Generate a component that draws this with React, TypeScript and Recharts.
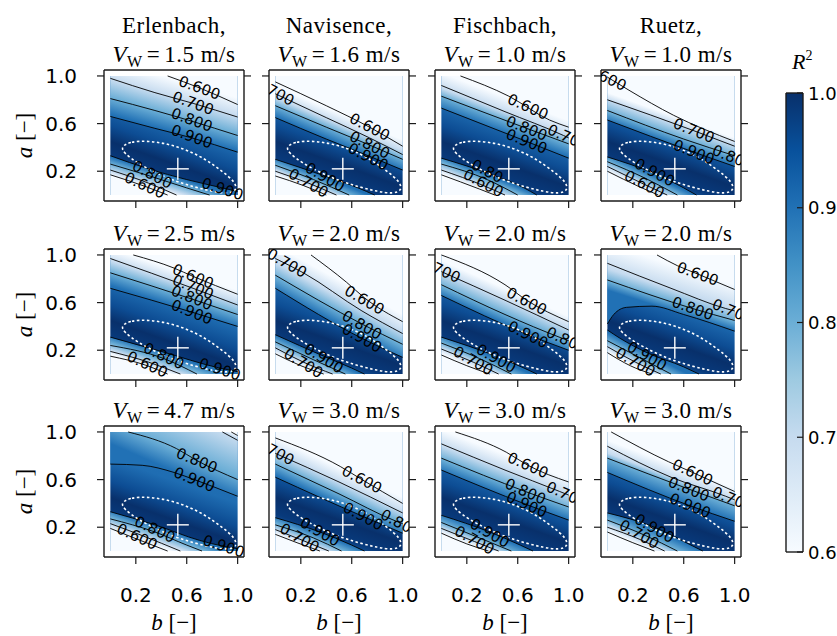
import React from 'react';
import { ComposedChart, Area, Line, Scatter, XAxis, YAxis } from 'recharts';

type Pt = [number, number];
type Lbl = [string, number, number, number];

const rivers = ['Erlenbach,', 'Navisence,', 'Fischbach,', 'Ruetz,'];
const speeds = ['1.5', '1.6', '1.0', '1.0', '2.5', '2.0', '2.0', '2.0', '4.7', '3.0', '3.0', '3.0'];
const bTicks = [0.2, 0.6, 1.0];
const aTicks = [0.2, 0.6, 1.0];
const cbTicks = [0.6, 0.7, 0.8, 0.9, 1.0];
// Blues colour at the contour levels 0.6, 0.7, 0.8, 0.9
const levelColors = ['#f7fbff', '#c6dbef', '#6baed6', '#2171b5'];
const ridgeStops: [number, string][] = [
  [0, '#2171b5'], [0.45, '#1f6db2'], [0.62, '#0d4d94'], [0.74, '#08306b'], [0.86, '#083a7c'], [1, '#2171b5'],
];
const blues: [number, string][] = [
  [0, '#f7fbff'], [0.125, '#deebf7'], [0.25, '#c6dbef'], [0.375, '#9ecae1'], [0.5, '#6baed6'],
  [0.625, '#4292c6'], [0.75, '#2171b5'], [0.875, '#08519c'], [1, '#08306b'],
];
const optimum: Pt = [0.53, 0.22];
const ellipse: Pt[] = [
  [0.08, 0.405], [0.16, 0.45], [0.30, 0.455], [0.45, 0.43], [0.60, 0.38], [0.75, 0.30], [0.88, 0.20],
  [0.98, 0.11], [0.995, 0.04], [0.93, 0.01], [0.80, 0.03], [0.65, 0.07], [0.50, 0.12], [0.35, 0.19],
  [0.21, 0.27], [0.11, 0.35],
];

// contours [b, a]; upper branch and lower branch, levels 0.6, 0.7, 0.8, 0.9
const erl15Up: Pt[][] = [
  [[0.45, 1.0], [0.7, 0.9], [1, 0.76]],
  [[0, 0.98], [0.35, 0.86], [0.65, 0.77], [1, 0.655]],
  [[0, 0.81], [0.35, 0.71], [0.64, 0.62], [1, 0.5]],
  [[0, 0.66], [0.35, 0.56], [0.64, 0.48], [1, 0.36]],
];
const erl15Lo: Pt[][] = [
  [[0, 0.17], [0.28, 0.07], [0.45, 0]],
  [[0, 0.21], [0.3, 0.1], [0.52, 0]],
  [[0, 0.26], [0.31, 0.16], [0.6, 0.06], [0.78, 0]],
  [[0, 0.33], [0.3, 0.22], [0.6, 0.13], [0.88, 0.06], [1, 0.03]],
];
const erl15Lbl: Lbl[] = [
  ['0.600', 0.7, 0.9, 20], ['0.700', 0.65, 0.77, 20], ['0.800', 0.64, 0.63, 20], ['0.900', 0.64, 0.49, 20],
  ['0.800', 0.33, 0.17, 28], ['0.600', 0.27, 0.08, 25], ['0.900', 0.88, 0.05, 18],
];

const nav16Up: Pt[][] = [
  [[0, 0.95], [0.4, 0.75], [0.74, 0.57], [1, 0.41]],
  [[0, 0.85], [0.4, 0.65], [0.74, 0.48], [1, 0.34]],
  [[0, 0.75], [0.4, 0.57], [0.74, 0.42], [1, 0.3]],
  [[0, 0.65], [0.4, 0.47], [0.73, 0.33], [1, 0.21]],
];
const nav16Lo: Pt[][] = [
  [[0, 0.16], [0.22, 0.08], [0.4, 0]],
  [[0, 0.2], [0.26, 0.1], [0.48, 0]],
  [[0, 0.25], [0.3, 0.13], [0.58, 0]],
  [[0, 0.3], [0.39, 0.16], [0.65, 0.06], [0.78, 0]],
];
const nav16Lbl: Lbl[] = [
  ['700', 0.04, 0.84, 28], ['0.600', 0.74, 0.57, 27], ['0.800', 0.74, 0.42, 27], ['0.900', 0.73, 0.32, 27],
  ['0.900', 0.39, 0.15, 30], ['0.700', 0.26, 0.1, 30],
];

const fis10Up: Pt[][] = [
  [[0.15, 1.0], [0.53, 0.83], [0.85, 0.63], [1, 0.57]],
  [[0, 0.92], [0.5, 0.7], [0.96, 0.5], [1, 0.48]],
  [[0, 0.83], [0.67, 0.56], [1, 0.43]],
  [[0, 0.73], [0.67, 0.45], [1, 0.31]],
];
const fis10Lo: Pt[][] = [
  [[0, 0.17], [0.3, 0.05], [0.42, 0]],
  [[0, 0.21], [0.33, 0.08], [0.5, 0]],
  [[0, 0.26], [0.36, 0.13], [0.6, 0]],
  [[0, 0.31], [0.4, 0.17], [0.65, 0.06], [0.75, 0]],
];
const fis10Lbl: Lbl[] = [
  ['0.600', 0.68, 0.74, 24], ['0.70', 0.96, 0.5, 24], ['0.800', 0.67, 0.56, 22], ['0.900', 0.67, 0.45, 22],
  ['0.80', 0.36, 0.2, 28], ['0.600', 0.33, 0.1, 28],
];

const rue10Up: Pt[][] = [
  [[0, 0.99], [0.17, 0.88], [0.52, 0.67], [1, 0.45]],
  [[0, 0.8], [0.68, 0.54], [1, 0.41]],
  [[0, 0.71], [0.6, 0.47], [1, 0.33]],
  [[0, 0.63], [0.68, 0.36], [1, 0.24]],
];
const rue10Lo: Pt[][] = [
  [[0, 0.2], [0.25, 0.07], [0.4, 0]],
  [[0, 0.24], [0.27, 0.1], [0.47, 0]],
  [[0, 0.28], [0.3, 0.14], [0.55, 0]],
  [[0, 0.32], [0.37, 0.18], [0.6, 0.06], [0.7, 0]],
];
const rue10Lbl: Lbl[] = [
  ['600', 0.04, 0.96, 25], ['0.700', 0.68, 0.54, 22], ['0.80', 0.95, 0.33, 22], ['0.900', 0.68, 0.36, 22],
  ['0.900', 0.37, 0.19, 28], ['0.600', 0.29, 0.09, 28],
];

const erl25Up: Pt[][] = [
  [[0.18, 1.0], [0.5, 0.89], [0.65, 0.82], [1, 0.67]],
  [[0, 0.97], [0.65, 0.72], [1, 0.58]],
  [[0, 0.85], [0.64, 0.63], [1, 0.5]],
  [[0, 0.72], [0.64, 0.52], [1, 0.4]],
];
const erl25Lo: Pt[][] = [
  [[0, 0.15], [0.29, 0.07], [0.45, 0]],
  [[0, 0.19], [0.3, 0.1], [0.55, 0]],
  [[0, 0.24], [0.42, 0.13], [0.68, 0]],
  [[0, 0.31], [0.4, 0.19], [0.86, 0.05], [1, 0.02]],
];
const erl25Lbl: Lbl[] = [
  ['0.600', 0.65, 0.82, 22], ['0.700', 0.65, 0.73, 22], ['0.800', 0.64, 0.64, 22], ['0.900', 0.64, 0.52, 22],
  ['0.800', 0.42, 0.15, 25], ['0.600', 0.29, 0.08, 25], ['0.900', 0.86, 0.04, 18],
];

const nav20Up: Pt[][] = [
  [[0.28, 1.0], [0.56, 0.77], [0.7, 0.64], [1, 0.44]],
  [[0, 0.97], [0.22, 0.85], [0.68, 0.53], [1, 0.34]],
  [[0, 0.83], [0.68, 0.42], [1, 0.25]],
  [[0, 0.72], [0.68, 0.3], [1, 0.14]],
];
const nav20Lo: Pt[][] = [
  [[0, 0.17], [0.2, 0.07], [0.38, 0]],
  [[0, 0.22], [0.22, 0.1], [0.45, 0]],
  [[0, 0.27], [0.3, 0.12], [0.55, 0]],
  [[0, 0.33], [0.38, 0.15], [0.6, 0.05], [0.7, 0]],
];
const nav20Lbl: Lbl[] = [
  ['0.700', 0.09, 0.93, 30], ['0.600', 0.7, 0.62, 30], ['0.800', 0.68, 0.41, 30], ['0.900', 0.68, 0.3, 30],
  ['0.900', 0.38, 0.13, 32], ['0.700', 0.22, 0.09, 32],
];

const fis20Up: Pt[][] = [
  [[0, 1.0], [0.5, 0.75], [0.67, 0.62], [1, 0.44]],
  [[0, 0.86], [0.5, 0.62], [1, 0.37]],
  [[0, 0.75], [0.5, 0.5], [0.95, 0.3], [1, 0.28]],
  [[0, 0.66], [0.68, 0.33], [1, 0.2]],
];
const fis20Lo: Pt[][] = [
  [[0, 0.16], [0.2, 0.07], [0.38, 0]],
  [[0, 0.21], [0.25, 0.1], [0.45, 0]],
  [[0, 0.26], [0.3, 0.13], [0.55, 0]],
  [[0, 0.31], [0.43, 0.15], [0.65, 0.05], [0.75, 0]],
];
const fis20Lbl: Lbl[] = [
  ['700', 0.04, 0.85, 25], ['0.600', 0.67, 0.61, 27], ['0.80', 0.95, 0.3, 25], ['0.900', 0.68, 0.33, 27],
  ['0.900', 0.43, 0.13, 30], ['0.700', 0.25, 0.11, 30],
];

const rue20Up: Pt[][] = [
  [[0.39, 1.0], [0.55, 0.91], [0.71, 0.84], [1, 0.71]],
  [[0, 0.93], [0.5, 0.72], [0.93, 0.55], [1, 0.53]],
  [[0, 0.79], [0.67, 0.55], [1, 0.45]],
  [[0, 0.42], [0.05, 0.5], [0.15, 0.56], [0.35, 0.57], [0.6, 0.5], [1, 0.36]],
];
const rue20Lo: Pt[][] = [
  [[0, 0.18], [0.18, 0.07], [0.35, 0]],
  [[0, 0.23], [0.22, 0.1], [0.42, 0]],
  [[0, 0.28], [0.25, 0.14], [0.5, 0]],
  [[0, 0.37], [0.1, 0.3], [0.31, 0.18], [0.6, 0.06], [0.72, 0]],
];
const rue20Lbl: Lbl[] = [
  ['0.600', 0.71, 0.84, 20], ['0.70', 0.95, 0.54, 22], ['0.800', 0.67, 0.55, 20],
  ['0.900', 0.31, 0.15, 30], ['0.700', 0.22, 0.1, 30],
];

const erl47Up: Pt[][] = [
  [[0.95, 1.0], [1, 0.97]],
  [[0.88, 1.0], [1, 0.93]],
  [[0.14, 1.0], [0.52, 0.86], [0.68, 0.76], [1, 0.6]],
  [[0, 0.73], [0.25, 0.72], [0.5, 0.66], [0.66, 0.6], [1, 0.46]],
];
const erl47Lo: Pt[][] = [
  [[0, 0.19], [0.21, 0.1], [0.45, 0]],
  [[0, 0.23], [0.25, 0.13], [0.55, 0]],
  [[0, 0.27], [0.35, 0.16], [0.6, 0.05], [0.72, 0]],
  [[0, 0.33], [0.35, 0.22], [0.7, 0.09], [0.89, 0.04], [1, 0.02]],
];
const erl47Lbl: Lbl[] = [
  ['0.800', 0.68, 0.76, 22], ['0.900', 0.66, 0.6, 22],
  ['0.800', 0.35, 0.18, 25], ['0.600', 0.21, 0.12, 25], ['0.900', 0.89, 0.04, 18],
];

const nav30Up: Pt[][] = [
  [[0, 0.95], [0.51, 0.71], [0.68, 0.6], [1, 0.4]],
  [[0, 0.82], [0.5, 0.58], [1, 0.32]],
  [[0, 0.73], [0.5, 0.48], [0.95, 0.25], [1, 0.23]],
  [[0, 0.62], [0.69, 0.29], [1, 0.15]],
];
const nav30Lo: Pt[][] = [
  [[0, 0.14], [0.17, 0.07], [0.35, 0]],
  [[0, 0.18], [0.19, 0.1], [0.42, 0]],
  [[0, 0.22], [0.3, 0.11], [0.52, 0]],
  [[0, 0.28], [0.35, 0.16], [0.6, 0.05], [0.7, 0]],
];
const nav30Lbl: Lbl[] = [
  ['700', 0.04, 0.81, 28], ['0.600', 0.68, 0.6, 28], ['0.80', 0.95, 0.25, 28], ['0.900', 0.69, 0.29, 28],
  ['0.900', 0.35, 0.16, 30], ['0.700', 0.19, 0.11, 30],
];

const fis30Up: Pt[][] = [
  [[0.11, 1.0], [0.51, 0.83], [0.68, 0.72], [1, 0.58]],
  [[0, 0.9], [0.5, 0.68], [0.93, 0.5], [1, 0.47]],
  [[0, 0.78], [0.66, 0.5], [1, 0.37]],
  [[0, 0.68], [0.67, 0.39], [1, 0.26]],
];
const fis30Lo: Pt[][] = [
  [[0, 0.15], [0.2, 0.06], [0.37, 0]],
  [[0, 0.19], [0.26, 0.08], [0.45, 0]],
  [[0, 0.24], [0.3, 0.11], [0.55, 0]],
  [[0, 0.3], [0.38, 0.16], [0.62, 0.05], [0.72, 0]],
];
const fis30Lbl: Lbl[] = [
  ['0.600', 0.68, 0.72, 24], ['0.70', 0.95, 0.49, 24], ['0.800', 0.66, 0.5, 24], ['0.900', 0.67, 0.39, 24],
  ['0.900', 0.38, 0.15, 30], ['0.700', 0.26, 0.09, 30],
];

const rue30Up: Pt[][] = [
  [[0.03, 1.0], [0.48, 0.75], [0.67, 0.66], [1, 0.5]],
  [[0, 0.88], [0.5, 0.62], [0.93, 0.46], [1, 0.43]],
  [[0, 0.78], [0.64, 0.52], [1, 0.38]],
  [[0, 0.66], [0.65, 0.38], [1, 0.25]],
];
const rue30Lo: Pt[][] = [
  [[0, 0.16], [0.2, 0.07], [0.37, 0]],
  [[0, 0.2], [0.25, 0.1], [0.45, 0]],
  [[0, 0.26], [0.3, 0.13], [0.55, 0]],
  [[0, 0.32], [0.37, 0.2], [0.62, 0.07], [0.75, 0]],
];
const rue30Lbl: Lbl[] = [
  ['0.600', 0.67, 0.66, 25], ['0.70', 0.95, 0.45, 22], ['0.800', 0.64, 0.52, 22], ['0.900', 0.65, 0.38, 22],
  ['0.900', 0.37, 0.19, 30], ['0.700', 0.25, 0.14, 30],
];

const panelUp = [erl15Up, nav16Up, fis10Up, rue10Up, erl25Up, nav20Up, fis20Up, rue20Up, erl47Up, nav30Up, fis30Up, rue30Up];
const panelLo = [erl15Lo, nav16Lo, fis10Lo, rue10Lo, erl25Lo, nav20Lo, fis20Lo, rue20Lo, erl47Lo, nav30Lo, fis30Lo, rue30Lo];
const panelLbl = [erl15Lbl, nav16Lbl, fis10Lbl, rue10Lbl, erl25Lbl, nav20Lbl, fis20Lbl, rue20Lbl, erl47Lbl, nav30Lbl, fis30Lbl, rue30Lbl];

// layout
const colLeft = [104, 269, 435, 601];
const rowTop = [70, 249, 426];
const PW = 140;
const PH = 131;
const YL = 70;
const YR = 12;
const XT = 12;
const XB = 50;
const SANS = 'DejaVu Sans';
const SERIF = 'Liberation Serif';
const FRAME = '#1a1a1a';

// pixel position inside a panel svg (for orienting the shading gradients)
const xPix = (b: number) => YL + ((b + 0.05) / 1.1) * PW;
const yPix = (a: number) => XT + ((1.05 - a) / 1.1) * PH;
const at = (c: Pt[], b: number): [number, number] => {
  const bb = Math.min(Math.max(b, c[0][0]), c[c.length - 1][0]);
  for (let j = 1; j < c.length; j++) {
    if (bb <= c[j][0]) {
      const [b0, a0] = c[j - 1];
      const [b1, a1] = c[j];
      const f = b1 === b0 ? 0 : (bb - b0) / (b1 - b0);
      return [xPix(bb), yPix(a0 + f * (a1 - a0))];
    }
  }
  const l = c[c.length - 1];
  return [xPix(l[0]), yPix(l[1])];
};
const sideGrad = (cs: Pt[][], bm: number, ref: Pt[], sign: number) => {
  const f = ref[0];
  const l = ref[ref.length - 1];
  const s = (l[1] - f[1]) / (l[0] - f[0]);
  let tx = PW / 1.1;
  let ty = (-s * PH) / 1.1;
  const len = Math.hypot(tx, ty);
  tx /= len;
  ty /= len;
  const nx = sign * ty;
  const ny = -sign * tx;
  const p0 = at(cs[3], bm);
  const d = cs.map((c) => {
    const p = at(c, bm);
    return (p[0] - p0[0]) * nx + (p[1] - p0[1]) * ny;
  });
  const D = Math.max(d[0], 4);
  const stops: [number, string][] = [[0, levelColors[3]]];
  let prev = 0;
  for (const k of [2, 1, 0]) {
    const o = Math.min(1, Math.max(prev, d[k] / D));
    stops.push([o, levelColors[k]]);
    prev = o;
  }
  return { x1: p0[0], y1: p0[1], x2: p0[0] + nx * D, y2: p0[1] + ny * D, stops };
};

const TickBottom = (p: any) => (
  <g>
    <line x1={p.x} x2={p.x} y1={p.y} y2={p.y + 7} stroke={FRAME} strokeWidth={1.2} />
    {p.show && (
      <text x={p.x} y={p.y + 38} textAnchor="middle" dominantBaseline="central" fontSize={20} fontFamily={SANS} fill="#000">
        {Number(p.payload.value).toFixed(1)}
      </text>
    )}
  </g>
);
const TickTop = (p: any) => <line x1={p.x} x2={p.x} y1={p.y - 7} y2={p.y} stroke={FRAME} strokeWidth={1.2} />;
const TickLeft = (p: any) => (
  <g>
    <line x1={p.x - 7} x2={p.x} y1={p.y} y2={p.y} stroke={FRAME} strokeWidth={1.2} />
    {p.show && (
      <text x={p.x - 27} y={p.y} textAnchor="end" dominantBaseline="central" fontSize={20} fontFamily={SANS} fill="#000">
        {Number(p.payload.value).toFixed(1)}
      </text>
    )}
  </g>
);
const TickRight = (p: any) => <line x1={p.x} x2={p.x + 7} y1={p.y} y2={p.y} stroke={FRAME} strokeWidth={1.2} />;
const TickCb = (p: any) => (
  <g>
    <line x1={p.x - 6} x2={p.x} y1={p.y} y2={p.y} stroke={FRAME} strokeWidth={1.2} />
    <text x={p.x + 5} y={p.y} textAnchor="start" dominantBaseline="central" fontSize={18} fontFamily={SANS} fill="#000">
      {Number(p.payload.value).toFixed(1)}
    </text>
  </g>
);

const CrossShape = (p: any) => (
  <g stroke="#ffffff" strokeWidth={1.4}>
    <line x1={p.cx - 11} x2={p.cx + 11} y1={p.cy} y2={p.cy} />
    <line x1={p.cx} x2={p.cx} y1={p.cy - 11} y2={p.cy + 11} />
  </g>
);
const LabelShape = (p: any) => (
  <text
    x={p.cx}
    y={p.cy}
    transform={`rotate(${p.payload.r} ${p.cx} ${p.cy})`}
    textAnchor="middle"
    dominantBaseline="central"
    fontSize={15}
    fontFamily={SANS}
    fill="#000"
  >
    {p.payload.t}
  </text>
);

const axisLine = { stroke: FRAME, strokeWidth: 1.4 };

const Panel = ({ i }: { i: number }) => {
  const row = Math.floor(i / 4);
  const col = i % 4;
  const up = panelUp[i];
  const lo = panelLo[i];
  const lb = panelLbl[i];
  const gid = `ridge${i}`;
  const gu = sideGrad(up, 0.6, up[2], 1);
  const gl = sideGrad(lo, 0.25, lo[2], -1);
  return (
    <div style={{ position: 'absolute', left: colLeft[col] - YL, top: rowTop[row] - XT }}>
      <ComposedChart width={YL + PW + YR} height={XT + PH + XB} margin={{ top: 0, right: 0, bottom: 0, left: 0 }}>
        <defs>
          <linearGradient id={gid} x1="0.78" y1="0" x2="0.4" y2="1">
            {ridgeStops.map(([o, c]) => (
              <stop key={o} offset={o} stopColor={c} />
            ))}
          </linearGradient>
          <linearGradient id={`up${i}`} gradientUnits="userSpaceOnUse" x1={gu.x1} y1={gu.y1} x2={gu.x2} y2={gu.y2}>
            {gu.stops.map(([o, c], k) => (
              <stop key={k} offset={o} stopColor={c} />
            ))}
          </linearGradient>
          <linearGradient id={`lo${i}`} gradientUnits="userSpaceOnUse" x1={gl.x1} y1={gl.y1} x2={gl.x2} y2={gl.y2}>
            {gl.stops.map(([o, c], k) => (
              <stop key={k} offset={o} stopColor={c} />
            ))}
          </linearGradient>
        </defs>
        <XAxis dataKey="b" type="number" domain={[-0.05, 1.05]} allowDataOverflow ticks={bTicks} interval={0}
          height={XB} tickSize={0} tickMargin={0} tickLine={false} axisLine={axisLine} tick={<TickBottom show={row === 2} />} />
        <XAxis xAxisId="top" orientation="top" type="number" domain={[-0.05, 1.05]} allowDataOverflow ticks={bTicks}
          interval={0} height={XT} tickSize={0} tickMargin={0} tickLine={false} axisLine={axisLine} tick={<TickTop />} />
        <YAxis type="number" domain={[-0.05, 1.05]} allowDataOverflow ticks={aTicks} interval={0} width={YL}
          tickSize={0} tickMargin={0} tickLine={false} axisLine={axisLine} tick={<TickLeft show={col === 0} />} />
        <YAxis yAxisId="right" orientation="right" type="number" domain={[-0.05, 1.05]} allowDataOverflow ticks={aTicks}
          interval={0} width={YR} tickSize={0} tickMargin={0} tickLine={false} axisLine={axisLine} tick={<TickRight />} />

        <Area data={[{ b: 0, r: [0, 1] }, { b: 1, r: [0, 1] }]} dataKey="r" type="linear" fill={`url(#${gid})`}
          fillOpacity={1} stroke="none" isAnimationActive={false} />
        <Area data={up[3].map(([b, a]) => ({ b, r: [a, 1] }))} dataKey="r" type="monotone"
          fill={`url(#up${i})`} fillOpacity={1} stroke="none" isAnimationActive={false} />
        <Area data={lo[3].map(([b, a]) => ({ b, r: [0, a] }))} dataKey="r" type="monotone"
          fill={`url(#lo${i})`} fillOpacity={1} stroke="none" isAnimationActive={false} />
        {[...up, ...lo].map((c, k) => (
          <Line key={`c${k}`} data={c.map(([b, a]) => ({ b, a }))} dataKey="a" type="monotone" stroke="#000"
            strokeWidth={0.9} dot={false} activeDot={false} isAnimationActive={false} />
        ))}
        <Line data={ellipse.map(([b, a]) => ({ b, a }))} dataKey="a" type="basisClosed" stroke="#ffffff"
          strokeWidth={1.6} strokeDasharray="2.5 2.5" dot={false} activeDot={false} isAnimationActive={false} />
        <Scatter data={[{ b: optimum[0], a: optimum[1] }]} dataKey="a" shape={CrossShape} isAnimationActive={false} />
        <Scatter data={lb.map(([t, b, a, r]) => ({ t, b, a, r }))} dataKey="a" shape={LabelShape} isAnimationActive={false} />
      </ComposedChart>
    </div>
  );
};

const CB_T = 14;
const ColorBar = () => (
  <div style={{ position: 'absolute', left: 786 - 2, top: 93 - CB_T }}>
    <ComposedChart width={2 + 17 + 50} height={CB_T + 459 + CB_T} margin={{ top: 0, right: 0, bottom: 0, left: 0 }}>
      <defs>
        <linearGradient id="cbgrad" x1="0" y1="1" x2="0" y2="0">
          {blues.map(([o, c]) => (
            <stop key={o} offset={o} stopColor={c} />
          ))}
        </linearGradient>
      </defs>
      <XAxis dataKey="x" type="number" domain={[0, 1]} allowDataOverflow height={CB_T} tick={false} tickLine={false} axisLine={axisLine} />
      <XAxis xAxisId="top" orientation="top" type="number" domain={[0, 1]} allowDataOverflow height={CB_T} tick={false} tickLine={false} axisLine={axisLine} />
      <YAxis type="number" domain={[0.6, 1.0]} allowDataOverflow width={2} tick={false} tickLine={false} axisLine={axisLine} />
      <YAxis yAxisId="right" orientation="right" type="number" domain={[0.6, 1.0]} allowDataOverflow ticks={cbTicks}
        interval={0} width={50} tickSize={0} tickMargin={0} tickLine={false} axisLine={axisLine} tick={<TickCb />} />
      <Area data={[{ x: 0, r: [0.6, 1.0] }, { x: 1, r: [0.6, 1.0] }]} dataKey="r" type="linear" fill="url(#cbgrad)"
        fillOpacity={1} stroke="none" isAnimationActive={false} />
    </ComposedChart>
  </div>
);

const Texts = () => (
  <svg width={837} height={636} style={{ position: 'absolute', left: 0, top: 0, pointerEvents: 'none' }}>
    {rivers.map((r, c) => (
      <text key={r} x={colLeft[c] + PW / 2} y={33} textAnchor="middle" fontFamily={SERIF} fontSize={23} letterSpacing={0.5} fill="#000">
        {r}
      </text>
    ))}
    {speeds.map((s, i) => {
      const row = Math.floor(i / 4);
      const col = i % 4;
      return (
        <text key={`s${i}`} x={colLeft[col] + PW / 2} y={rowTop[row] - 8} textAnchor="middle" fontFamily={SERIF}
          fontSize={23} letterSpacing={0.5} fill="#000">
          <tspan fontStyle="italic">V</tspan>
          <tspan fontSize={16} dy={5}>W</tspan>
          <tspan dy={-5} dx={4}>=</tspan>
          <tspan dx={4}>{`${s} m/s`}</tspan>
        </text>
      );
    })}
    {rowTop.map((t, r) => (
      <text key={`ya${r}`} x={32} y={t + PH / 2} transform={`rotate(-90 32 ${t + PH / 2})`} textAnchor="middle"
        fontFamily={SERIF} fontSize={23} fill="#000">
        <tspan fontStyle="italic">a</tspan>
        <tspan>{' [\u2212]'}</tspan>
      </text>
    ))}
    {colLeft.map((l, c) => (
      <text key={`xb${c}`} x={l + PW / 2} y={630} textAnchor="middle" fontFamily={SERIF} fontSize={23} fill="#000">
        <tspan fontStyle="italic">b</tspan>
        <tspan>{' [\u2212]'}</tspan>
      </text>
    ))}
    <text x={792} y={69} fontFamily={SERIF} fontSize={22} fill="#000">
      <tspan fontStyle="italic">R</tspan>
      <tspan fontSize={14} dy={-9}>2</tspan>
    </text>
  </svg>
);

export default function App() {
  return (
    <div style={{ position: 'absolute', left: 0, top: 0, width: 837, height: 636, background: '#ffffff', overflow: 'hidden' }}>
      {speeds.map((_, i) => (
        <Panel key={i} i={i} />
      ))}
      <ColorBar />
      <Texts />
    </div>
  );
}
